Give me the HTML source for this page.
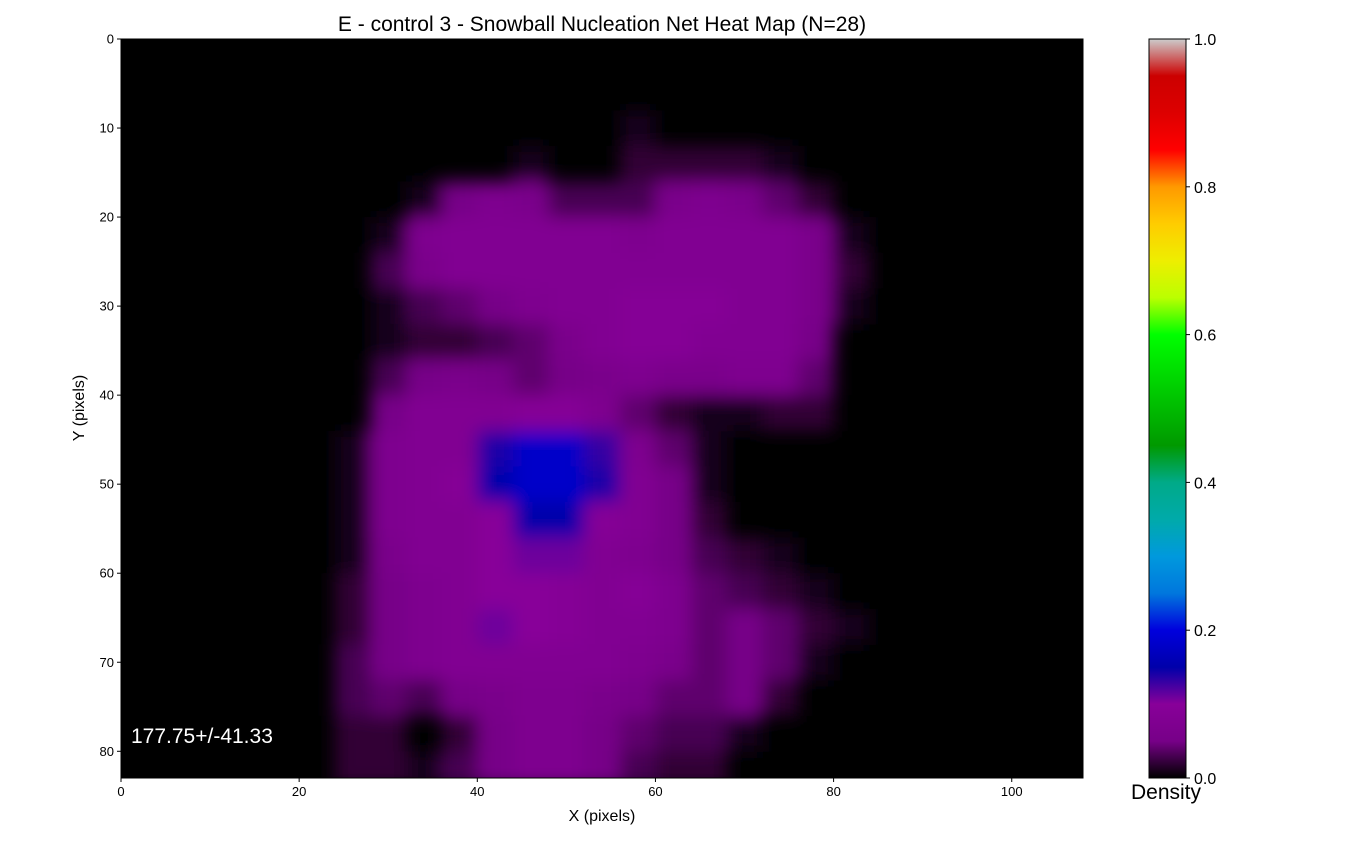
<!DOCTYPE html>
<html><head><meta charset="utf-8"><style>
body{margin:0;background:#fff;}
svg text{font-family:"Liberation Sans","DejaVu Sans",sans-serif;}
</style></head><body>
<svg id="chart" width="1362" height="840" xmlns="http://www.w3.org/2000/svg">
<defs>
<clipPath id="plotClip"><rect x="121" y="39" width="962" height="739"/></clipPath>
<filter id="blur" x="-10%" y="-10%" width="120%" height="120%"><feGaussianBlur stdDeviation="9"/></filter>
<linearGradient id="cmap" x1="0" y1="1" x2="0" y2="0"></linearGradient>
</defs>
<text x="602" y="31" font-size="21" text-anchor="middle">E - control 3 - Snowball Nucleation Net Heat Map (N=28)</text>
<rect x="121" y="39" width="962" height="739" fill="#000"/>
<g id="cells" clip-path="url(#plotClip)"><g id="cellsInner" filter="url(#blur)"></g></g>
<rect x="121" y="39" width="962" height="739" fill="none" stroke="#000" stroke-width="1"/>
<text x="131" y="743" font-size="21" fill="#fff">177.75+/-41.33</text>
<g id="xticks"></g><g id="yticks"></g>
<text x="602" y="821" font-size="16" text-anchor="middle">X (pixels)</text>
<text transform="translate(84,408) rotate(-90)" font-size="16" text-anchor="middle">Y (pixels)</text>
<rect x="1149" y="39" width="37" height="739" fill="url(#cmap)" stroke="#000" stroke-width="1"/>
<g id="cticks"></g>
<text x="1166" y="799" font-size="21" text-anchor="middle">Density</text>
</svg>
<script>
const xTicks=[0,20,40,60,80,100];
const yTicks=[0,10,20,30,40,50,60,70,80];
const cTicks=[0.0,0.2,0.4,0.6,0.8,1.0];
const cellSize=4;
// density*100 per 4x4 block; rows y=0..84, cols x=0..108
const grid=[
[0,0,0,0,0,0,0,0,0,0,0,0,0,0,0,0,0,0,0,0,0,0,0,0,0,0,0],
[0,0,0,0,0,0,0,0,0,0,0,0,0,0,0,0,0,0,0,0,0,0,0,0,0,0,0],
[0,0,0,0,0,0,0,0,0,0,0,0,0,0,1,0,0,0,0,0,0,0,0,0,0,0,0],
[0,0,0,0,0,0,0,0,0,0,0,1,0,0,2,2,2,2,1,0,0,0,0,0,0,0,0],
[0,0,0,0,0,0,0,0,1,5,7,6,3,3,3,6,7,6,4,2,0,0,0,0,0,0,0],
[0,0,0,0,0,0,0,1,7,8,8,8,8,8,7,8,8,8,8,6,1,0,0,0,0,0,0],
[0,0,0,0,0,0,0,3,6,8,8,8,8,8,8,8,8,8,8,6,2,0,0,0,0,0,0],
[0,0,0,0,0,0,0,1,3,4,5,7,8,8,9,9,9,8,8,6,1,0,0,0,0,0,0],
[0,0,0,0,0,0,0,1,2,2,3,4,6,8,9,9,8,8,8,5,0,0,0,0,0,0,0],
[0,0,0,0,0,0,0,3,5,6,5,4,5,6,7,6,6,7,7,4,0,0,0,0,0,0,0],
[0,0,0,0,0,0,0,5,8,8,8,9,9,7,4,2,1,1,2,2,0,0,0,0,0,0,0],
[0,0,0,0,0,0,1,7,8,8,14,18,18,13,7,4,1,0,0,0,0,0,0,0,0,0,0],
[0,0,0,0,0,0,1,7,8,9,15,18,18,14,8,5,1,0,0,0,0,0,0,0,0,0,0],
[0,0,0,0,0,0,1,7,8,8,10,15,15,9,8,5,2,0,0,0,0,0,0,0,0,0,0],
[0,0,0,0,0,0,1,6,8,8,10,11,11,8,7,5,3,2,1,0,0,0,0,0,0,0,0],
[0,0,0,0,0,0,2,5,7,8,10,10,9,8,9,7,4,3,2,1,0,0,0,0,0,0,0],
[0,0,0,0,0,0,2,5,7,8,11,10,9,8,8,7,4,5,4,2,1,0,0,0,0,0,0],
[0,0,0,0,0,0,3,5,7,8,8,8,8,8,7,6,4,5,4,1,0,0,0,0,0,0,0],
[0,0,0,0,0,0,3,4,3,5,6,7,7,6,5,4,4,5,2,0,0,0,0,0,0,0,0],
[0,0,0,0,0,0,2,2,0,2,5,7,7,5,4,3,3,1,0,0,0,0,0,0,0,0,0],
[0,0,0,0,0,0,2,2,1,3,5,7,7,5,3,2,2,0,0,0,0,0,0,0,0,0,0]
];
const cmapStops=[[0,0,0,0],[0.05,0.4667,0,0.5333],[0.10,0.5333,0,0.6],[0.15,0,0,0.6667],[0.20,0,0,0.8667],[0.25,0,0.4667,0.8667],[0.30,0,0.6,0.8667],[0.35,0,0.6667,0.6667],[0.40,0,0.6667,0.5333],[0.45,0,0.6,0],[0.50,0,0.7333,0],[0.55,0,0.8667,0],[0.60,0,1,0],[0.65,0.7333,1,0],[0.70,0.9333,0.9333,0],[0.75,1,0.8,0],[0.80,1,0.6,0],[0.85,1,0,0],[0.90,0.8667,0,0],[0.95,0.8,0,0],[1.0,0.8,0.8,0.8]];
const NS="http://www.w3.org/2000/svg";
const X0=121,X1=1083,Y0=39,Y1=778,XMAX=108,YMAX=83;
const xs=v=>X0+v*(X1-X0)/XMAX;
const ys=v=>Y0+v*(Y1-Y0)/YMAX;
const cs=v=>Y1-v*(Y1-Y0);
function color(v){
  v=Math.max(0,Math.min(1,v));
  for(let i=1;i<cmapStops.length;i++){
    const a=cmapStops[i-1],b=cmapStops[i];
    if(v<=b[0]){const t=(v-a[0])/(b[0]-a[0]);
      const c=[1,2,3].map(k=>Math.round(255*(a[k]+(b[k]-a[k])*t)));
      return `rgb(${c[0]},${c[1]},${c[2]})`;}
  }
  return "rgb(204,204,204)";
}
function mk(tag,attrs,parent){const e=document.createElementNS(NS,tag);for(const k in attrs)e.setAttribute(k,attrs[k]);parent.appendChild(e);return e;}
const cg=document.getElementById('cellsInner');
grid.forEach((row,r)=>row.forEach((v,c)=>{
  if(!v)return;
  const el=mk('rect',{x:xs(c*cellSize),y:ys(r*cellSize),width:xs(cellSize)-X0+0.5,height:ys(cellSize)-Y0+0.5,fill:color(v/100)},cg);
  
  
}));
const grad=document.getElementById('cmap');
cmapStops.forEach(s=>mk('stop',{offset:s[0],'stop-color':color(s[0])},grad));
const xg=document.getElementById('xticks');
xTicks.forEach(v=>{
  const x=xs(v);
  const l=mk('line',{x1:x,x2:x,y1:Y1,y2:Y1+4,stroke:'#000'},xg);
  
  
  const t=mk('text',{x:x,y:Y1+18,'font-size':13,'text-anchor':'middle'},xg);t.textContent=v;
  
  
});
const yg=document.getElementById('yticks');
yTicks.forEach(v=>{
  const y=ys(v);
  const l=mk('line',{x1:X0-4,x2:X0,y1:y,y2:y,stroke:'#000'},yg);
  
  
  const t=mk('text',{x:X0-7,y:y+4.5,'font-size':13,'text-anchor':'end'},yg);t.textContent=v;
  
  
});
const cgT=document.getElementById('cticks');
cTicks.forEach(v=>{
  const y=cs(v);
  const l=mk('line',{x1:1186,x2:1190,y1:y,y2:y,stroke:'#000'},cgT);
  
  
  const t=mk('text',{x:1194,y:y+6,'font-size':16},cgT);t.textContent=v.toFixed(1);
  
  
});
</script>
</body></html>
